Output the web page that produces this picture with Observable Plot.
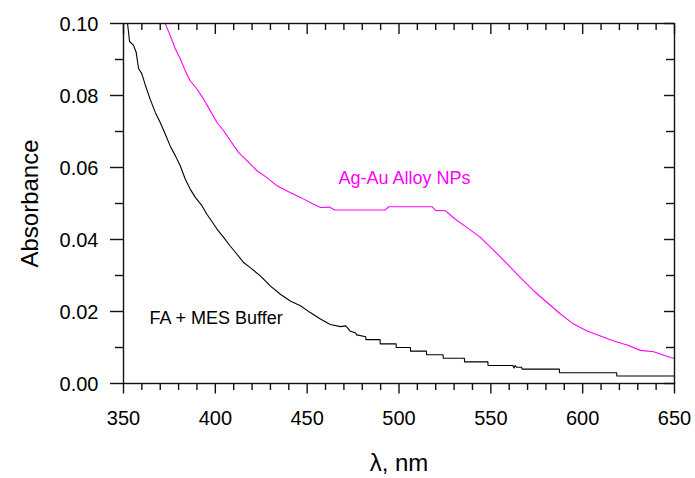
<!DOCTYPE html>
<html><head><meta charset="utf-8">
<script src="https://cdn.jsdelivr.net/npm/d3@7"></script>
<script src="https://cdn.jsdelivr.net/npm/@observablehq/plot@0.6"></script>
<style>body{margin:0;background:#fff;}</style>
</head><body><div id="chart"></div>
<script>
// FA + MES Buffer (black)
const blackNm  = [352.2,353.3,355.4,356.9,358.2,360,361.8,364.5,367.3,370,372.7,375.4,378.2,380.9,383.6,386.3,389.1,392.7,395.4,397.2,400.9,404.5,408.1,411.8,415.4,419,424.5,429.9,435.4,440.8,446.3,451.7,457.2,462.6,468.1,471,473.6,476.4,477,481.9,482,489.7,489.8,498.4,498.5,506.2,506.3,514.9,515,524,524.1,535.6,535.7,548.4,548.5,562,562.6,563.3,564,566.8,567,587.3,587.4,618.5,618.6,650];
const blackAbs = [0.100,0.095,0.094,0.092,0.0875,0.086,0.083,0.079,0.0753,0.0725,0.0693,0.066,0.0633,0.0605,0.0568,0.054,0.0517,0.0494,0.047,0.0457,0.0429,0.0406,0.0382,0.0359,0.0336,0.0322,0.0299,0.0271,0.0248,0.0229,0.0216,0.0197,0.0179,0.0164,0.0158,0.0160,0.0145,0.0140,0.0135,0.0130,0.0122,0.0122,0.0110,0.0110,0.0100,0.0100,0.0090,0.0090,0.0080,0.0080,0.0070,0.0070,0.0060,0.0060,0.0050,0.0050,0.0043,0.0050,0.0045,0.0045,0.0040,0.0040,0.0030,0.0030,0.0021,0.0021];
// Ag-Au Alloy NPs (magenta)
const alloyNm  = [372.7,375.4,378.2,380.9,383.6,386.3,390,393.6,397.2,400.9,404.5,408.1,412.6,417.2,422.7,428.1,433.6,439,446.3,453.5,457.2,462,465,492.6,494.4,518,519.8,525.2,530.5,537.1,544.3,551.6,558.9,566.1,573.4,580.6,587.9,595.1,602.4,609.7,616.9,624.2,631.5,638.7,647.8,650];
const alloyAbs = [0.100,0.0967,0.093,0.0902,0.0869,0.0841,0.0818,0.079,0.0758,0.0725,0.0702,0.0675,0.0642,0.0619,0.0591,0.0572,0.0549,0.0535,0.0517,0.0498,0.0489,0.049,0.0482,0.0482,0.0491,0.0491,0.0481,0.048,0.0457,0.0433,0.0406,0.037,0.0332,0.0294,0.0257,0.0225,0.0193,0.0165,0.0146,0.0132,0.0118,0.0107,0.0092,0.0088,0.0072,0.007];

const xMajorTicks = [350,400,450,500,550,600,650];
const xMinorTicks = [360,370,380,390,410,420,430,440,460,470,480,490,510,520,530,540,560,570,580,590,610,620,630,640];
const yMajorTicks = [0,0.02,0.04,0.06,0.08,0.10];
const yMinorTicks = [0.01,0.03,0.05,0.07,0.09];
const xTickLabels = ["350","400","450","500","550","600","650"];
const yTickLabels = ["0.00","0.02","0.04","0.06","0.08","0.10"];

const seriesLabels = [
  {text: "Ag-Au Alloy NPs", nm: 503, a: 0.057, color: "#ff00ff"},
  {text: "FA + MES Buffer", nm: 400.4, a: 0.0182, color: "#000000"}
];

const black = blackNm.map((x, i) => ({nm: x, a: blackAbs[i]}));
const alloy = alloyNm.map((x, i) => ({nm: x, a: alloyAbs[i]}));
const xLabelData = xMajorTicks.map((v, i) => ({v, t: xTickLabels[i]}));
const yLabelData = yMajorTicks.map((v, i) => ({v, t: yTickLabels[i]}));

const FONT = "'Liberation Sans', Arial, sans-serif";
const W = 695, H = 478, mL = 123, mR = 21, mT = 23, mB = 95;
const X0 = 350, X1 = 650, Y0 = 0, Y1 = 0.1;
const innerW = W - mL - mR, innerH = H - mT - mB;
// tick lengths in pixels, converted to data units of each scale
const yPx = px => px * (Y1 - Y0) / innerH;
const xPx = px => px * (X1 - X0) / innerW;
const tickStyle = {stroke: "#111", strokeWidth: 1.4};
const xTickBottom = (data, len) => Plot.ruleX(data, {x: d => d, y1: Y0, y2: Y0 - yPx(len), ...tickStyle});
const xTickTop    = (data, len) => Plot.ruleX(data, {x: d => d, y1: Y1, y2: Y1 - yPx(len), ...tickStyle});
const yTickLeft   = (data, len) => Plot.ruleY(data, {y: d => d, x1: X0, x2: X0 - xPx(len), ...tickStyle});
const yTickRight  = (data, len) => Plot.ruleY(data, {y: d => d, x1: X1, x2: X1 - xPx(len), ...tickStyle});

const chart = Plot.plot({
  width: W, height: H,
  marginLeft: mL, marginRight: mR, marginTop: mT, marginBottom: mB,
  x: {domain: [X0, X1], axis: null},
  y: {domain: [Y0, Y1], axis: null},
  marks: [
    Plot.line(black, {x: "nm", y: "a", stroke: "#000", strokeWidth: 1.1}),
    Plot.line(alloy, {x: "nm", y: "a", stroke: "#ff00ff", strokeWidth: 1.1}),
    Plot.text(seriesLabels, {x: "nm", y: "a", text: "text", fill: "color", fontSize: 18, fontFamily: FONT}),
    Plot.frame({stroke: "#111", strokeWidth: 1.4}),
    xTickBottom(xMajorTicks, 10.5), xTickBottom(xMinorTicks, 7),
    xTickTop(xMajorTicks, 11), xTickTop(xMinorTicks, 7),
    yTickLeft(yMajorTicks, 13), yTickLeft(yMinorTicks, 8),
    yTickRight(yMajorTicks, 10), yTickRight(yMinorTicks, 8),
    Plot.text(xLabelData, {x: "v", text: "t", frameAnchor: "bottom", dy: 35, lineAnchor: "middle", textAnchor: "middle", fontSize: 20, fontFamily: FONT, fill: "#000"}),
    Plot.text(yLabelData, {y: "v", text: "t", frameAnchor: "left", dx: -25, dy: 1, lineAnchor: "middle", textAnchor: "end", fontSize: 20, fontFamily: FONT, fill: "#000"}),
    Plot.text(["Absorbance"], {frameAnchor: "left", dx: -93, rotate: -90, fontSize: 24, textAnchor: "middle", lineAnchor: "middle", fontFamily: FONT, fill: "#000", text: d => d}),
    Plot.text(["λ, nm"], {frameAnchor: "bottom", dy: 80, fontSize: 24, textAnchor: "middle", lineAnchor: "middle", fontFamily: FONT, fill: "#000", text: d => d})
  ]
});
document.getElementById("chart").append(chart);
</script>
</body></html>
